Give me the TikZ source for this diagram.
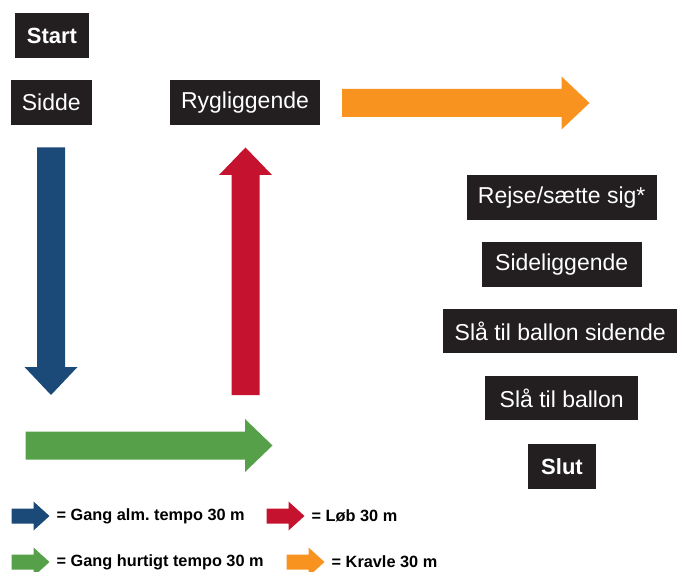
\documentclass[tikz,border=0pt]{standalone}
\usepackage{fontspec}
\setmainfont{Liberation Sans}
\definecolor{boxblack}{HTML}{231F20}
\definecolor{gangblue}{HTML}{1B4A78}
\definecolor{loebred}{HTML}{C4122F}
\definecolor{hurtiggreen}{HTML}{55A048}
\definecolor{kravleorange}{HTML}{F7931E}
\tikzset{
  legarrow/.pic={\fill[#1] (0,-7.5) -- (22,-7.5) -- (22,-14.5) -- (38,0) -- (22,14.5) -- (22,7.5) -- (0,7.5) -- cycle;}
}
\begin{document}
\begin{tikzpicture}[
    x=1pt, y=-1pt,
    box/.style={fill=boxblack, text=white, inner sep=0pt, minimum height=44.5pt,
      font=\fontsize{23}{27}\selectfont},
    legend/.style={anchor=west, inner sep=0pt, font=\fontsize{16.3}{19}\selectfont\bfseries}
]
  \useasboundingbox (0,0) rectangle (678,572);

  % boxes (placed to match the screenshot)
  \node[box, minimum width=74pt, font=\fontsize{22}{26}\selectfont\bfseries] (start) at (52,35.5) {Start};
  \node[box, minimum width=81pt] (sidde) at (51.3,102.5) {Sidde};
  \node[box, minimum width=150pt] (ryg) at (245,102.5) {Rygliggende};
  \node[box, minimum width=190pt] (rejse) at (561.7,197.5) {Rejse/sætte sig*};
  \node[box, minimum width=160pt] (side) at (561.7,264.5) {Sideliggende};
  \node[box, minimum width=234pt] (slaside) at (560.2,331.2) {Slå til ballon sidende};
  \node[box, minimum width=153pt] (sla) at (561.7,398) {Slå til ballon};
  \node[box, minimum width=68pt, font=\fontsize{22}{26}\selectfont\bfseries] (slut) at (562,466.5) {Slut};

  % big arrows
  \fill[gangblue] (37,147.5) -- (65,147.5) -- (65,367) -- (77.5,367) -- (51,395) -- (24.5,367) -- (37,367) -- cycle;
  \fill[loebred] (231.5,395) -- (259.5,395) -- (259.5,175) -- (272,175) -- (245.5,147.5) -- (219,175) -- (231.5,175) -- cycle;
  \fill[hurtiggreen] (25.5,431.5) -- (245,431.5) -- (245,419) -- (272.5,445.5) -- (245,472) -- (245,459.5) -- (25.5,459.5) -- cycle;
  \fill[kravleorange] (342,89) -- (561.5,89) -- (561.5,76.5) -- (589.5,103) -- (561.5,129.5) -- (561.5,117) -- (342,117) -- cycle;

  % legend
  \pic at (11.5,516) {legarrow=gangblue};
  \node[legend] (lgang) at (56.5,516) {= Gang alm.\ tempo 30 m};
  \pic at (266.5,516) {legarrow=loebred};
  \node[legend] (lloeb) at (311.5,516) {= Løb 30 m};
  \pic at (11.5,562) {legarrow=hurtiggreen};
  \node[legend] (lhurtig) at (56.5,562) {= Gang hurtigt tempo 30 m};
  \pic at (286.5,562) {legarrow=kravleorange};
  \node[legend] (lkravle) at (331.5,562) {= Kravle 30 m};
\end{tikzpicture}
\end{document}
